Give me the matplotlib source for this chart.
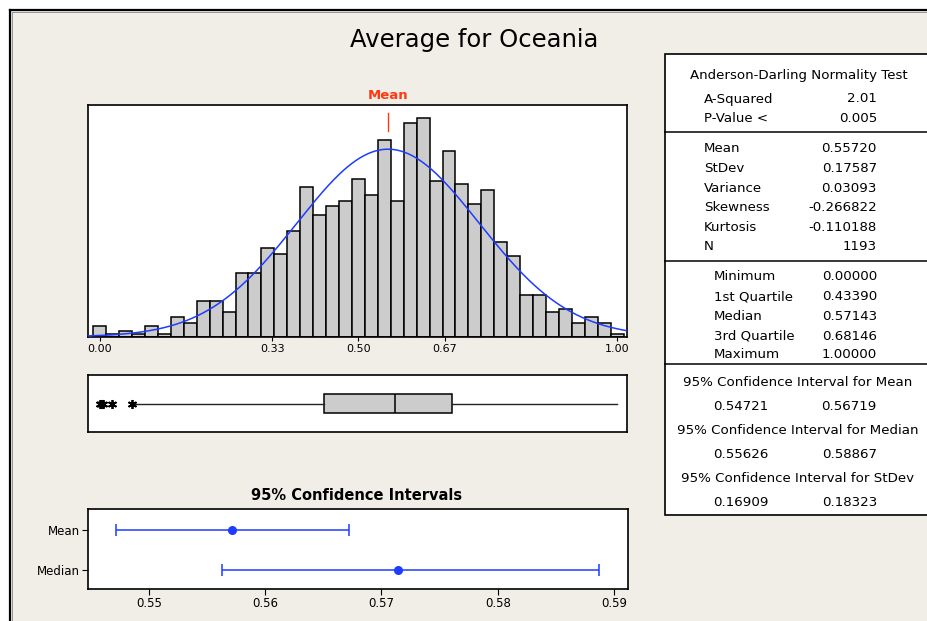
import numpy as np
import matplotlib
matplotlib.use("Agg")
import matplotlib.pyplot as plt
from matplotlib import font_manager
from matplotlib.patches import Rectangle
from matplotlib.lines import Line2D
import matplotlib.transforms as mtransforms

BIN_WIDTH = 0.025
COUNTS = [4, 1, 2, 1, 4, 1, 7, 5, 13, 13,
          9, 23, 23, 32, 30, 38, 54, 44, 47, 49,
          57, 51, 71, 49, 77, 79, 56, 67, 55, 48,
          53, 34, 29, 15, 15, 9, 10, 5, 7, 5, 1]
HIST_TICKS = [0.0, 1/3, 0.5, 2/3, 1.0]
HIST_TICKLABELS = ["0.00", "0.33", "0.50", "0.67", "1.00"]

MEAN, STDEV, VARIANCE = 0.55720, 0.17587, 0.03093
SKEW, KURT, N = -0.266822, -0.110188, 1193
A_SQ, P_VAL = 2.01, 0.005
MINIMUM, Q1, MEDIAN, Q3, MAXIMUM = 0.00000, 0.43390, 0.57143, 0.68146, 1.00000
WHISKER_LO = 0.067
OUTLIERS = [0.0, 0.003, 0.007, 0.024, 0.062]

CI_MEAN = (0.54721, 0.56719)
CI_MEDIAN = (0.55626, 0.58867)
CI_STDEV = (0.16909, 0.18323)
CI_TICKS = [0.55, 0.56, 0.57, 0.58, 0.59]

BG = "#F1EDE7"
BLUE = "#1E3CFF"
RED = "#FF3A10"
W, H = 928, 621

names = {f.name for f in font_manager.fontManager.ttflist}
NARROW = "Liberation Sans Narrow" if "Liberation Sans Narrow" in names else "DejaVu Sans"
plt.rcParams["font.family"] = "DejaVu Sans"

fig = plt.figure(figsize=(W / 100, H / 100), dpi=100, facecolor="white")

def fx(px): return px / W
def fy(py): return 1 - py / H

# window background and frame
fig.add_artist(Rectangle((fx(10), 0), 1, fy(10), transform=fig.transFigure,
                         facecolor=BG, edgecolor="none", zorder=0))
fig.add_artist(Line2D([fx(10), 1], [fy(10), fy(10)], transform=fig.transFigure, color="black", lw=1.6))
fig.add_artist(Line2D([fx(10), fx(10)], [0, fy(10)], transform=fig.transFigure, color="black", lw=1.6))
fig.add_artist(Line2D([fx(12), 1], [fy(12), fy(12)], transform=fig.transFigure, color="#888888", lw=0.6))
fig.add_artist(Line2D([fx(12), fx(12)], [0, fy(12)], transform=fig.transFigure, color="#888888", lw=0.6))

fig.text(fx(474), fy(40), "Average for Oceania", ha="center", va="center", fontsize=17.5)

XLIM = (-0.0226, 1.019)

# --- histogram ---
ax = fig.add_axes([fx(88), fy(336.7), fx(627) - fx(88), fy(105) - fy(336.7)])
centers = BIN_WIDTH * np.arange(len(COUNTS))
ax.bar(centers, COUNTS, width=BIN_WIDTH, color="#CCCCCC", edgecolor="black", linewidth=1.1, zorder=2)
xs = np.linspace(XLIM[0], XLIM[1], 400)
pdf = N * BIN_WIDTH * np.exp(-0.5 * ((xs - MEAN) / STDEV) ** 2) / (STDEV * np.sqrt(2 * np.pi))
ax.plot(xs, pdf, color=BLUE, lw=1.1, zorder=3)
ax.set_xlim(*XLIM)
ax.set_ylim(0, 83.6)
ax.set_yticks([])
ax.set_xticks(HIST_TICKS)
ax.set_xticklabels(HIST_TICKLABELS)
ax.tick_params(axis="x", length=3, labelsize=8, pad=2)
for s in ax.spines.values():
    s.set_linewidth(1.2)
trans = mtransforms.blended_transform_factory(ax.transData, ax.transAxes)
ax.plot([MEAN, MEAN], [0.889, 0.967], color=RED, lw=1.0, transform=trans, zorder=4)
ax.text(MEAN, 1.012, "Mean", transform=trans, ha="center", va="bottom",
        color=RED, fontsize=9.5, fontweight="bold")

# --- boxplot ---
axb = fig.add_axes([fx(88), fy(432), fx(627) - fx(88), fy(375) - fy(432)])
stats = [dict(med=MEDIAN, q1=Q1, q3=Q3, whislo=WHISKER_LO, whishi=MAXIMUM,
              fliers=OUTLIERS)]
axb.bxp(stats, orientation="horizontal", widths=0.35, patch_artist=True, showcaps=False,
        boxprops=dict(facecolor="#CCCCCC", edgecolor="black", linewidth=1.1),
        medianprops=dict(color="black", linewidth=1.1),
        whiskerprops=dict(color="#222222", linewidth=1.0),
        flierprops=dict(marker=(6, 2, 0), markersize=6.5, markeredgecolor="black",
                        markeredgewidth=1.3, linestyle="none"))
axb.set_xlim(*XLIM)
axb.set_ylim(0.5, 1.5)
axb.set_xticks([]); axb.set_yticks([])
for s in axb.spines.values():
    s.set_linewidth(1.2)

# --- confidence intervals ---
axc = fig.add_axes([fx(88), fy(589), fx(628) - fx(88), fy(509) - fy(589)])
ci_points = [MEAN, MEDIAN]
ci_lows = [CI_MEAN[0], CI_MEDIAN[0]]
ci_highs = [CI_MEAN[1], CI_MEDIAN[1]]
ypos = [1, 0]
axc.errorbar(ci_points, ypos,
             xerr=[np.subtract(ci_points, ci_lows), np.subtract(ci_highs, ci_points)],
             fmt="o", color=BLUE, ms=5.5, elinewidth=1.1, capsize=4.3, capthick=1.1)
axc.set_xlim(0.54478, 0.5912)
axc.set_ylim(-0.475, 1.525)
axc.set_xticks(CI_TICKS)
axc.set_xticklabels([f"{t:.2f}" for t in CI_TICKS], fontfamily=NARROW)
axc.set_yticks(ypos)
axc.set_yticklabels(["Mean", "Median"], fontfamily=NARROW)
axc.tick_params(labelsize=8.5, length=4, pad=2)
for s in axc.spines.values():
    s.set_linewidth(1.2)
fig.text(fx(357), fy(495), "95% Confidence Intervals", ha="center", va="center",
         fontsize=10.5, fontweight="bold")

# --- statistics table ---
fig.add_artist(Rectangle((fx(665), fy(515)), fx(940) - fx(665), fy(54) - fy(515),
                         transform=fig.transFigure, facecolor="white",
                         edgecolor="black", linewidth=1.2, zorder=1))
for yy in (131.5, 261, 364):
    fig.add_artist(Line2D([fx(665), 1], [fy(yy), fy(yy)], transform=fig.transFigure,
                          color="black", lw=1.1))

FS = 9.6
def row(label, value, y, lx=704):
    fig.text(fx(lx), fy(y), label, ha="left", va="center", fontsize=FS)
    fig.text(fx(877), fy(y), value, ha="right", va="center", fontsize=FS)

fig.text(fx(799), fy(75), "Anderson-Darling Normality Test", ha="center", va="center", fontsize=FS)
row("A-Squared", f"{A_SQ:.2f}", 99)
row("P-Value <", f"{P_VAL:.3f}", 119)

desc_labels = ["Mean", "StDev", "Variance", "Skewness", "Kurtosis", "N"]
desc_values = [f"{MEAN:.5f}", f"{STDEV:.5f}", f"{VARIANCE:.5f}", f"{SKEW:.6f}",
               f"{KURT:.6f}", f"{N}"]
for lab, val, y in zip(desc_labels, desc_values, [149, 168.5, 188, 207.5, 227, 246.5]):
    row(lab, val, y)

quant_labels = ["Minimum", "1st Quartile", "Median", "3rd Quartile", "Maximum"]
quant_values = [MINIMUM, Q1, MEDIAN, Q3, MAXIMUM]
for lab, val, y in zip(quant_labels, quant_values, [277, 297, 316.5, 336, 355]):
    row(lab, f"{val:.5f}", y, lx=714)

ci_titles = ["95% Confidence Interval for Mean", "95% Confidence Interval for Median",
             "95% Confidence Interval for StDev"]
ci_vals = [CI_MEAN, CI_MEDIAN, CI_STDEV]
for title, (lo, hi), yt, yv in zip(ci_titles, ci_vals, [382, 431, 479], [406, 454, 503]):
    fig.text(fx(798), fy(yt), title, ha="center", va="center", fontsize=FS)
    fig.text(fx(713), fy(yv), f"{lo:.5f}", ha="left", va="center", fontsize=FS)
    fig.text(fx(877), fy(yv), f"{hi:.5f}", ha="right", va="center", fontsize=FS)

fig.savefig("out.png", dpi=100, facecolor=fig.get_facecolor())
